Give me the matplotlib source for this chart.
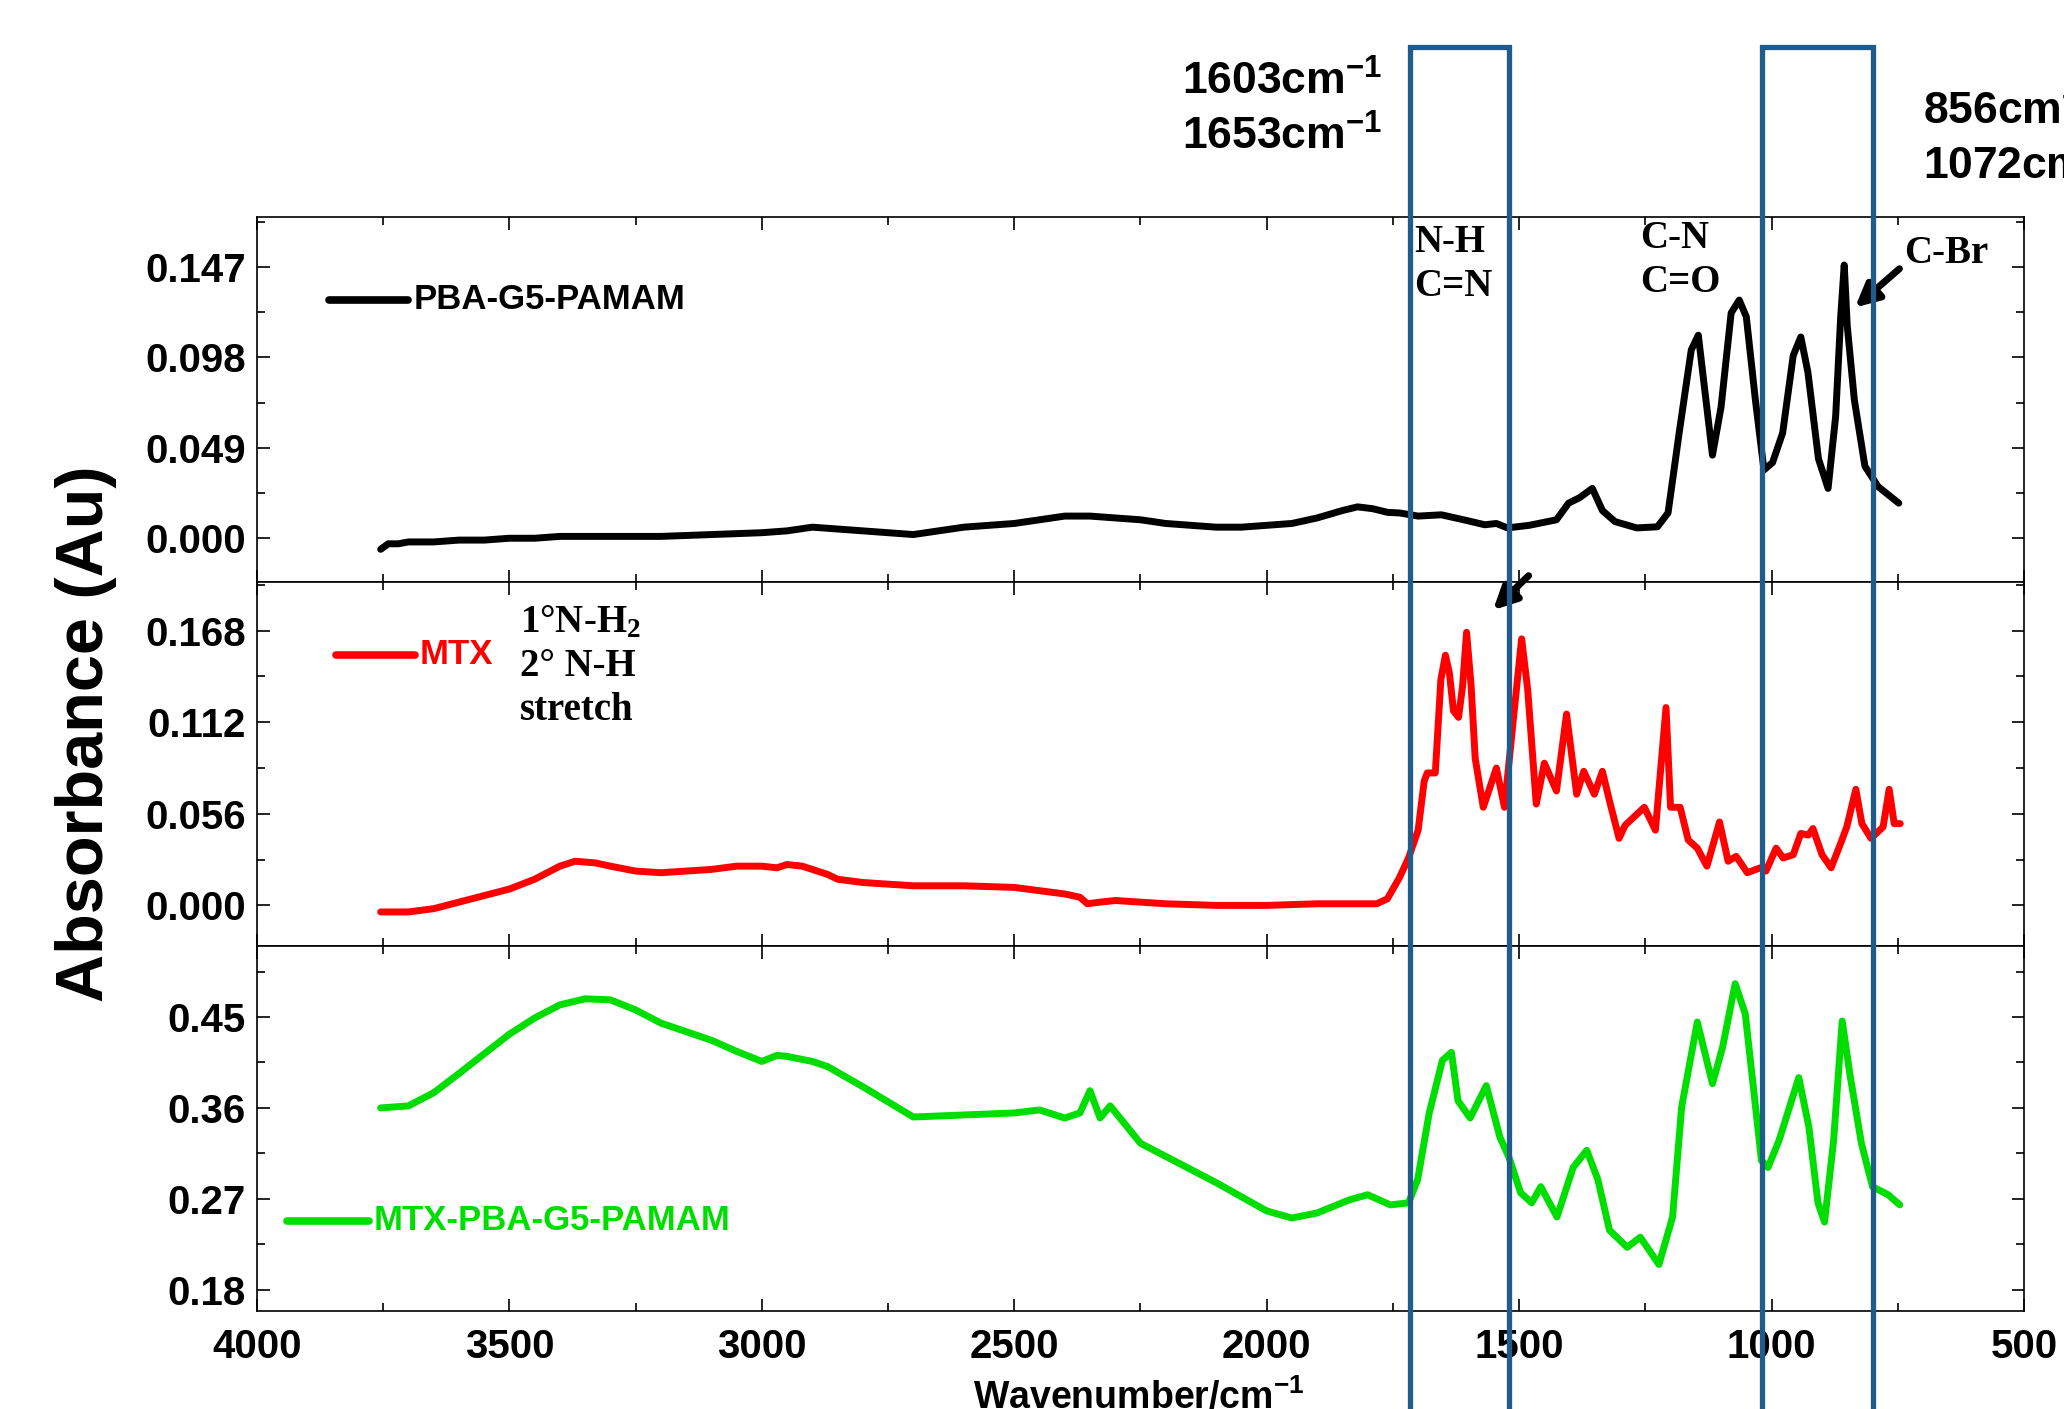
import numpy as np
import matplotlib.pyplot as plt
from matplotlib.ticker import MultipleLocator, FormatStrFormatter
from matplotlib.transforms import blended_transform_factory
from matplotlib.patches import Rectangle

plt.rcParams['font.family'] = 'Liberation Sans'
plt.rcParams['font.weight'] = 'bold'
plt.rcParams['mathtext.default'] = 'regular'

# ---------------- data ----------------
pba_x = [3755, 3740, 3720, 3700, 3650, 3600, 3550, 3500, 3450, 3400, 3300, 3200, 3100, 3000,
         2950, 2900, 2850, 2800, 2750, 2700, 2650, 2600, 2550, 2500, 2450, 2400, 2350, 2300,
         2250, 2200, 2150, 2100, 2050, 2000, 1950, 1900, 1850, 1820, 1790, 1760, 1737, 1700,
         1654, 1610, 1568, 1545, 1523, 1480, 1426, 1402, 1380, 1355, 1335, 1310, 1267, 1226,
         1205, 1183, 1159, 1145, 1133, 1117, 1100, 1080, 1064, 1050, 1032, 1015, 998, 978,
         957, 942, 928, 907, 888, 873, 863, 856, 850, 836, 815, 789, 748]
pba_y = [-0.006, -0.003, -0.003, -0.002, -0.002, -0.001, -0.001, 0.000, 0.000, 0.001, 0.001,
         0.001, 0.002, 0.003, 0.004, 0.006, 0.005, 0.004, 0.003, 0.002, 0.004, 0.006, 0.007,
         0.008, 0.010, 0.012, 0.012, 0.011, 0.010, 0.008, 0.007, 0.006, 0.006, 0.007, 0.008,
         0.011, 0.015, 0.017, 0.016, 0.014, 0.0137, 0.012, 0.0127, 0.010, 0.0073, 0.008,
         0.0056, 0.007, 0.010, 0.019, 0.022, 0.027, 0.015, 0.009, 0.0056, 0.0062, 0.0137,
         0.057, 0.102, 0.110, 0.082, 0.045, 0.071, 0.122, 0.129, 0.120, 0.075, 0.037, 0.041,
         0.057, 0.099, 0.109, 0.090, 0.043, 0.027, 0.066, 0.120, 0.148, 0.115, 0.075, 0.039,
         0.028, 0.019]

mtx_x = [3755, 3700, 3650, 3600, 3550, 3500, 3450, 3400, 3370, 3330, 3300, 3250, 3200, 3150,
         3100, 3050, 3000, 2970, 2950, 2920, 2900, 2870, 2850, 2800, 2750, 2700, 2600, 2500,
         2450, 2400, 2370, 2355, 2330, 2300, 2250, 2200, 2100, 2000, 1900, 1836, 1782, 1761,
         1737, 1719, 1700, 1688, 1682, 1666, 1655, 1646, 1638, 1630, 1620, 1612, 1604, 1595,
         1587, 1571, 1545, 1529, 1509, 1495, 1483, 1466, 1450, 1426, 1406, 1386, 1372, 1351,
         1335, 1321, 1302, 1290, 1252, 1230, 1209, 1200, 1181, 1165, 1147, 1128, 1103, 1086,
         1070, 1048, 1022, 1011, 991, 977, 957, 942, 927, 918, 900, 882, 863, 851, 833, 821,
         803, 779, 767, 757, 745]
mtx_y = [-0.004, -0.004, -0.002, 0.002, 0.006, 0.010, 0.016, 0.024, 0.027, 0.026, 0.024,
         0.021, 0.020, 0.021, 0.022, 0.024, 0.024, 0.023, 0.025, 0.024, 0.022, 0.019, 0.016,
         0.014, 0.013, 0.012, 0.012, 0.011, 0.009, 0.007, 0.005, 0.001, 0.002, 0.003, 0.002,
         0.001, 0.000, 0.000, 0.001, 0.001, 0.001, 0.004, 0.017, 0.029, 0.046, 0.076, 0.081,
         0.081, 0.138, 0.153, 0.142, 0.119, 0.115, 0.134, 0.167, 0.134, 0.090, 0.060, 0.084,
         0.060, 0.121, 0.163, 0.132, 0.062, 0.087, 0.070, 0.117, 0.068, 0.082, 0.068, 0.082,
         0.064, 0.041, 0.049, 0.060, 0.046, 0.121, 0.060, 0.060, 0.040, 0.035, 0.024, 0.051,
         0.027, 0.030, 0.020, 0.023, 0.021, 0.035, 0.029, 0.031, 0.044, 0.043, 0.047, 0.031,
         0.023, 0.038, 0.048, 0.071, 0.050, 0.041, 0.048, 0.071, 0.050, 0.050]

conj_x = [3755, 3700, 3650, 3600, 3500, 3450, 3400, 3350, 3300, 3250, 3200, 3100, 3050, 3000,
          2970, 2950, 2900, 2870, 2800, 2700, 2600, 2500, 2450, 2400, 2370, 2350, 2330, 2310,
          2250, 2200, 2100, 2000, 1950, 1900, 1836, 1800, 1755, 1719, 1701, 1678, 1652, 1634,
          1621, 1597, 1565, 1538, 1520, 1497, 1475, 1457, 1425, 1393, 1366, 1344, 1321, 1286,
          1260, 1223, 1196, 1178, 1147, 1117, 1097, 1072, 1052, 1020, 1007, 985, 946, 926, 908,
          895, 877, 860, 845, 822, 800, 769, 746]
conj_y = [0.360, 0.362, 0.375, 0.394, 0.433, 0.449, 0.462, 0.468, 0.467, 0.457, 0.444, 0.427,
          0.416, 0.406, 0.412, 0.411, 0.406, 0.401, 0.381, 0.351, 0.353, 0.355, 0.358, 0.350,
          0.355, 0.377, 0.350, 0.362, 0.325, 0.312, 0.286, 0.258, 0.251, 0.256, 0.269, 0.274,
          0.264, 0.266, 0.289, 0.355, 0.407, 0.415, 0.367, 0.350, 0.382, 0.331, 0.311, 0.276,
          0.266, 0.282, 0.252, 0.301, 0.318, 0.289, 0.239, 0.222, 0.232, 0.205, 0.252, 0.361,
          0.445, 0.384, 0.420, 0.483, 0.453, 0.308, 0.301, 0.328, 0.390, 0.341, 0.266, 0.247,
          0.328, 0.446, 0.394, 0.325, 0.282, 0.274, 0.264]

series = [
    (pba_x, pba_y, 'black', 'PBA-G5-PAMAM'),
    (mtx_x, mtx_y, '#ff0000', 'MTX'),
    (conj_x, conj_y, '#00dd00', 'MTX-PBA-G5-PAMAM'),
]
ylims = [(-0.0235, 0.174), (-0.025, 0.198), (0.159, 0.52)]
yticks = [[0.000, 0.049, 0.098, 0.147], [0.000, 0.056, 0.112, 0.168], [0.18, 0.27, 0.36, 0.45]]
yfmt = ['%.3f', '%.3f', '%.2f']
legend_pos = [(0.041, 0.0856, 0.773), (0.0447, 0.0893, 0.80), (0.0171, 0.0633, 0.248)]

# boxes around band regions (wavenumber edges)
box_edges = [(1717, 1521), (1018, 800)]
box_color = '#205b8e'

fig = plt.figure(figsize=(20.64, 14.09), dpi=100)
left, right, bottom, top = 0.1245, 0.9806, 0.0696, 0.846
h = (top - bottom) / 3
axes = []
for i in range(3):
    ax = fig.add_axes([left, bottom + (2 - i) * h, right - left, h])
    axes.append(ax)
    x, y, c, name = series[i]
    ax.plot(x, y, color=c, lw=5, solid_joinstyle='round', solid_capstyle='round')
    ax.set_xlim(4000, 500)
    ax.set_ylim(*ylims[i])
    ax.set_yticks(yticks[i])
    ax.yaxis.set_major_formatter(FormatStrFormatter(yfmt[i]))
    step = yticks[i][1] - yticks[i][0]
    ax.yaxis.set_minor_locator(MultipleLocator(step / 2))
    ax.xaxis.set_major_locator(MultipleLocator(500))
    ax.xaxis.set_minor_locator(MultipleLocator(250))
    ax.tick_params(which='both', direction='in', top=True, right=True, width=1.2)
    ax.tick_params(which='major', length=9, labelsize=29, pad=8)
    ax.tick_params(which='minor', length=6)
    for s in ax.spines.values():
        s.set_linewidth(1.2)
    if i < 2:
        ax.tick_params(labelbottom=False)
    else:
        ax.tick_params(axis='x', pad=12)
    x0, x1, ly = legend_pos[i]
    ax.plot([x0, x1], [ly, ly], color=c, lw=5.5, solid_capstyle='round', transform=ax.transAxes)
    ax.text(x1 + 0.003, ly, name, color=c, fontsize=25, fontweight='bold',
            va='center', ha='left', transform=ax.transAxes)

serif = 'Liberation Serif'
ax0, ax1, ax2 = axes
ax0.text(0.655, 0.87, 'N-H\nC=N', family=serif, fontsize=28, fontweight='bold',
         va='center', ha='left', linespacing=1.25, transform=ax0.transAxes)
ax0.text(0.783, 0.88, 'C-N\nC=O', family=serif, fontsize=28, fontweight='bold',
         va='center', ha='left', linespacing=1.25, transform=ax0.transAxes)
ax0.text(0.932, 0.899, 'C-Br', family=serif, fontsize=28, fontweight='bold',
         va='center', ha='left', transform=ax0.transAxes)
ax0.annotate('', xy=(0.9032, 0.747), xytext=(0.9307, 0.863), xycoords='axes fraction',
             arrowprops=dict(arrowstyle='-|>', color='black', lw=5, mutation_scale=35))
ax1.text(0.149, 0.767, '1°N-H$_2$\n2° N-H\nstretch', family=serif, fontsize=28,
         fontweight='bold', va='center', ha='left', linespacing=1.25, transform=ax1.transAxes)
ax1.annotate('', xy=(0.6984, 0.9167), xytext=(0.7208, 1.0217), xycoords='axes fraction',
             annotation_clip=False,
             arrowprops=dict(arrowstyle='-|>', color='black', lw=5, mutation_scale=35))

# blue boxes, x in wavenumber, y in figure fraction
trans = blended_transform_factory(ax0.transData, fig.transFigure)
for xa, xb in box_edges:
    rect = Rectangle((xa, -0.1), xb - xa, 0.1 + 0.9666, fill=False, edgecolor=box_color,
                     lw=3.8, transform=trans, clip_on=False, zorder=5)
    fig.add_artist(rect)

fig.text(0.6696, 0.9418, '1603cm$^{-1}$', fontsize=32, fontweight='bold', ha='right', va='center')
fig.text(0.6696, 0.9028, '1653cm$^{-1}$', fontsize=32, fontweight='bold', ha='right', va='center')
fig.text(0.9317, 0.9205, '856cm$^{-1}$', fontsize=32, fontweight='bold', ha='left', va='center')
fig.text(0.9317, 0.8815, '1072cm$^{-1}$', fontsize=32, fontweight='bold', ha='left', va='center')

fig.text(0.0415, 0.479, 'Absorbance (Au)', fontsize=48, fontweight='bold',
         rotation=90, ha='center', va='center')
fig.text(0.5518, 0.008, 'Wavenumber/cm$^{-1}$', fontsize=27, fontweight='bold',
         ha='center', va='center')

fig.savefig('out.png', dpi=100)
